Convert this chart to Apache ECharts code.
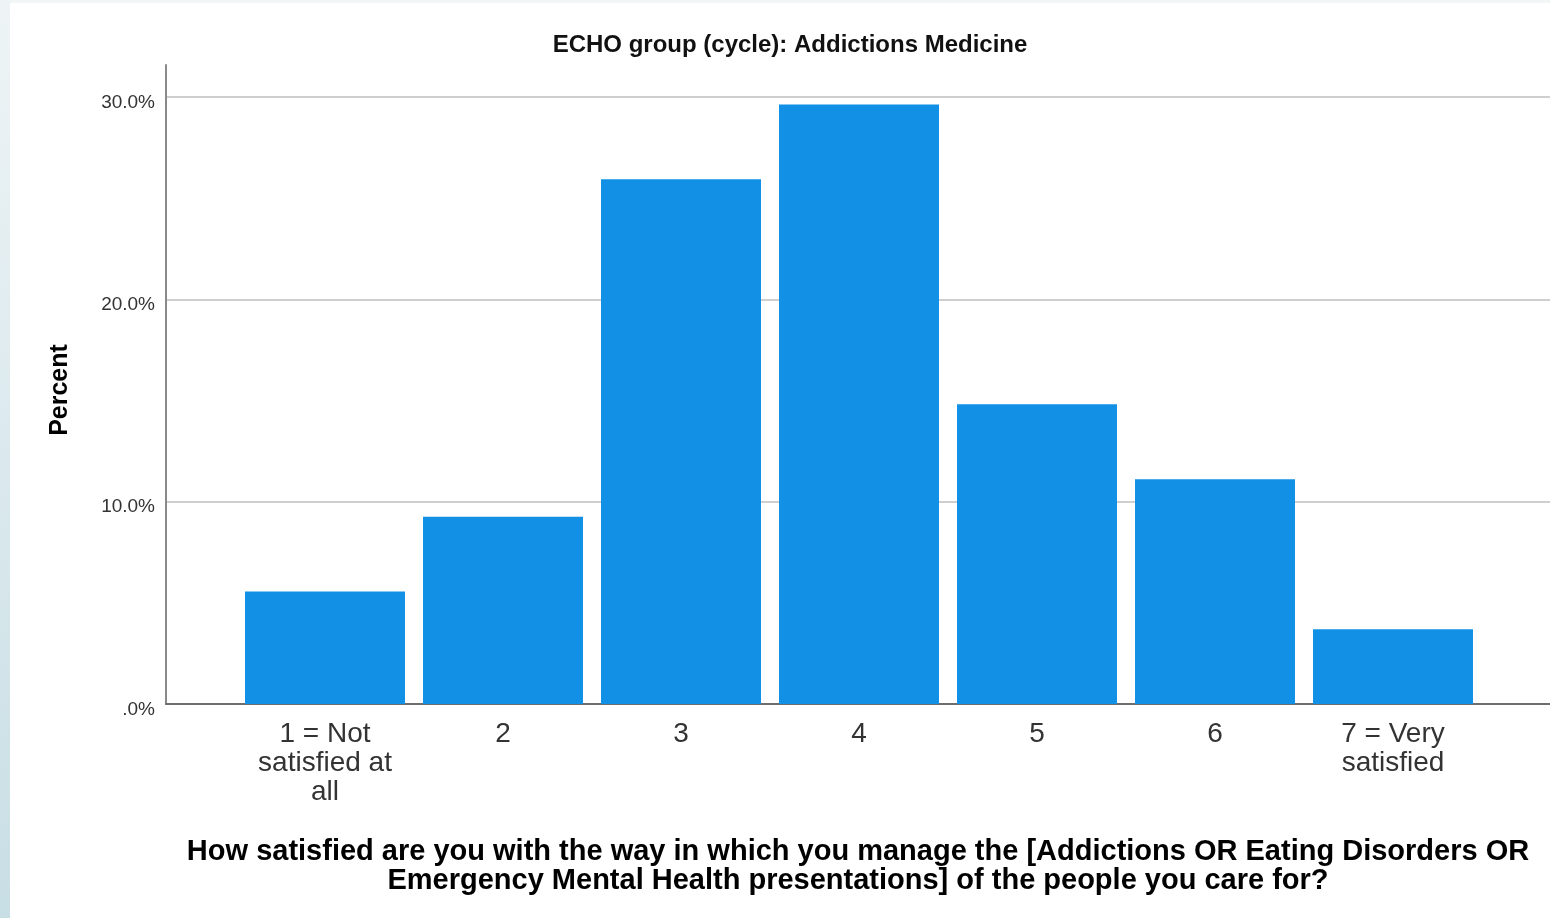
<!DOCTYPE html>
<html>
<head>
<meta charset="utf-8">
<script src="https://cdn.jsdelivr.net/npm/echarts@6/dist/echarts.min.js"></script>
<style>
html,body{margin:0;padding:0;background:#fff;}
#chart{width:1550px;height:918px;}
</style>
</head>
<body>
<div id="chart"></div>
<script>
const categories = ['1 = Not\nsatisfied at\nall', '2', '3', '4', '5', '6', '7 = Very\nsatisfied'];
const percentValues = [5.56, 9.26, 25.93, 29.63, 14.81, 11.11, 3.70];
const yTicks = [0, 10, 20, 30];
const chartTitle = 'ECHO group (cycle): Addictions Medicine';
const yAxisTitle = 'Percent';
const xAxisTitleLines = [
  'How satisfied are you with the way in which you manage the [Addictions OR Eating Disorders OR',
  'Emergency Mental Health presentations] of the people you care for?'
];

const chart = echarts.init(document.getElementById('chart'), null, {renderer: 'canvas'});
const TOP = 65, BOTTOM = 918 - 704;
const YMAX = 31.58;
const fmt = v => (v === 0 ? '.0' : v.toFixed(1)) + '%';

chart.setOption({
  animation: false,
  backgroundColor: '#ffffff',
  grid: [
    {left: 166, right: 0, top: TOP, bottom: BOTTOM},
    {left: 236, right: 68, top: TOP, bottom: BOTTOM}
  ],
  xAxis: [
    {type: 'value', gridIndex: 0, min: 0, max: 1,
     axisLine: {show: true, onZero: false, lineStyle: {color: '#6e6e6e', width: 2}},
     axisTick: {show: false}, axisLabel: {show: false}, splitLine: {show: false}},
    {type: 'category', gridIndex: 1, data: categories,
     axisLine: {show: false}, axisTick: {show: false},
     axisLabel: {interval: 0, color: '#333', fontFamily: 'Liberation Sans, Arial, sans-serif',
       fontSize: 28, lineHeight: 29, margin: 16}}
  ],
  yAxis: [
    {type: 'value', gridIndex: 0, min: 0, max: YMAX, interval: 10,
     axisLine: {show: true, lineStyle: {color: '#8a8a8a', width: 2}},
     axisTick: {show: false},
     axisLabel: {color: '#333', fontFamily: 'Liberation Sans, Arial, sans-serif', fontSize: 19,
       margin: 11, showMaxLabel: false, formatter: v => yTicks.includes(v) ? fmt(v) : '',
       verticalAlign: 'top', padding: [-4, 0, 0, 0]},
     splitLine: {show: true, showMinLine: false, showMaxLine: false, lineStyle: {color: '#cfcfcf', width: 2}}},
    {type: 'value', gridIndex: 1, min: 0, max: YMAX, interval: 10, show: false}
  ],
  series: [{
    type: 'bar', xAxisIndex: 1, yAxisIndex: 1, data: percentValues,
    barWidth: 160,
    itemStyle: {color: '#1290e6'}
  }],
  graphic: [
    {type: 'rect', left: 0, top: 0, z: -10, shape: {width: 1550, height: 3}, style: {fill: '#f3f6f7'}},
    {type: 'rect', left: 0, top: 0, z: -10, shape: {width: 10, height: 918},
     style: {fill: new echarts.graphic.LinearGradient(0, 0, 0, 1, [
       {offset: 0, color: '#eef4f6'}, {offset: 1, color: '#c8dee5'}])}},
    {type: 'text', x: 790, y: 45, style: {text: chartTitle, textAlign: 'center', textVerticalAlign: 'middle',
      font: 'bold 24px "Liberation Sans", Arial, sans-serif', fill: '#111'}},
    {type: 'text', x: 60, y: 390, rotation: Math.PI / 2, style: {text: yAxisTitle, textAlign: 'center', textVerticalAlign: 'middle',
      font: 'bold 25px "Liberation Sans", Arial, sans-serif', fill: '#000'}},
    {type: 'text', x: 858, y: 852, style: {text: xAxisTitleLines[0], textAlign: 'center', textVerticalAlign: 'middle',
      font: 'bold 29px "Liberation Sans", Arial, sans-serif', fill: '#000'}},
    {type: 'text', x: 858, y: 881, style: {text: xAxisTitleLines[1], textAlign: 'center', textVerticalAlign: 'middle',
      font: 'bold 29px "Liberation Sans", Arial, sans-serif', fill: '#000'}}
  ]
});
</script>
</body>
</html>
